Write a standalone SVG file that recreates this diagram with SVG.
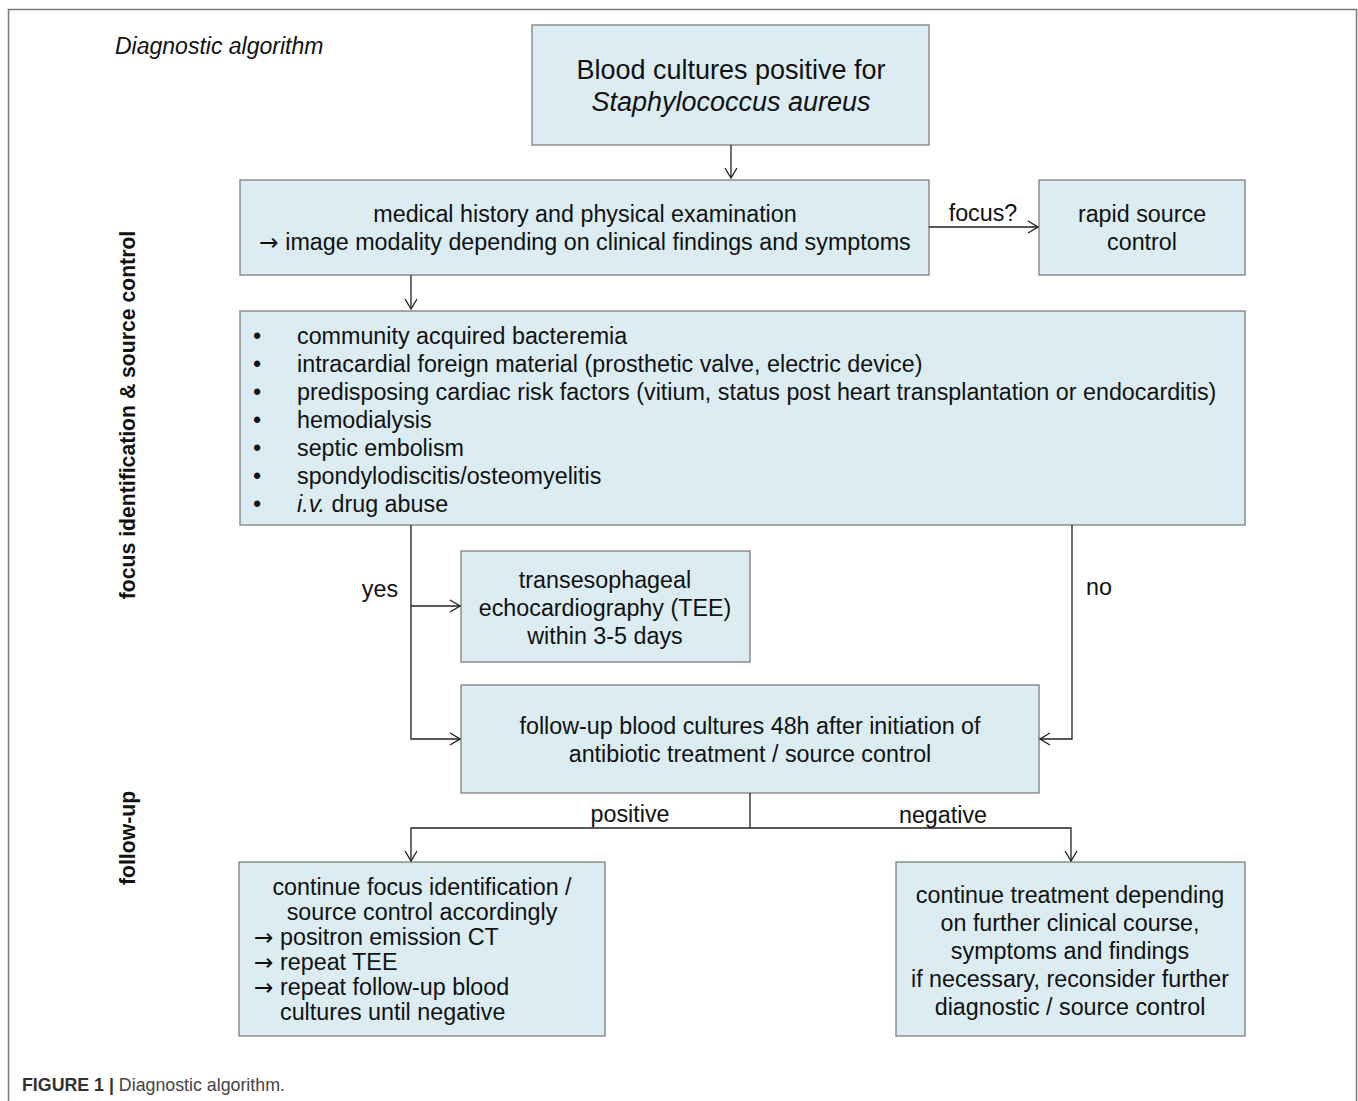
<svg xmlns="http://www.w3.org/2000/svg" width="1358" height="1101" viewBox="0 0 1358 1101">
<style>
text{font-family:"Liberation Sans",Arial,sans-serif;fill:#111}
.box{fill:#dbedf3;stroke:#7f7f7f;stroke-width:1.3}
.t{font-size:23.3px;text-anchor:middle}
.l{font-size:23.3px}
.ar{font-family:"DejaVu Sans",sans-serif}
.c{stroke:#222;stroke-width:1.3;fill:none}
.side{font-size:21.2px;font-weight:bold;text-anchor:middle}
</style>
<defs>
<marker id="ah" markerWidth="12" markerHeight="14" refX="11" refY="7" orient="auto" markerUnits="userSpaceOnUse">
<path d="M1,1 L11,7 L1,13" fill="none" stroke="#222" stroke-width="1.3"/>
</marker>
</defs>
<rect x="0" y="0" width="1358" height="1101" fill="#fff"/>
<path d="M8.5,1101 V9.5 H1356.5 V1101" fill="none" stroke="#7a7a7a" stroke-width="1.5"/>
<text x="115" y="54" font-size="23" font-style="italic">Diagnostic algorithm</text>
<text class="side" transform="translate(135,415) rotate(-90)">focus identification &amp; source control</text>
<text class="side" transform="translate(135,838) rotate(-90)">follow-up</text>

<g id="n1">
<rect class="box" x="532" y="25" width="397" height="120"/>
<text x="731" y="79" font-size="27" text-anchor="middle">Blood cultures positive for</text>
<text x="731" y="111" font-size="27" text-anchor="middle" font-style="italic">Staphylococcus aureus</text>
</g>
<g id="n2">
<rect class="box" x="240" y="180" width="689" height="95"/>
<text class="t" x="585" y="222">medical history and physical examination</text>
<text class="t" x="585" y="250"><tspan class="ar">→</tspan> image modality depending on clinical findings and symptoms</text>
</g>
<g id="n3">
<rect class="box" x="1039" y="180" width="206" height="95"/>
<text class="t" x="1142" y="222">rapid source</text>
<text class="t" x="1142" y="250">control</text>
</g>
<g id="n4">
<rect class="box" x="240" y="311" width="1005" height="214"/>
<g class="l">
<text x="253" y="344">•</text><text x="297" y="344">community acquired bacteremia</text>
<text x="253" y="372">•</text><text x="297" y="372">intracardial foreign material (prosthetic valve, electric device)</text>
<text x="253" y="400">•</text><text x="297" y="400">predisposing cardiac risk factors (vitium, status post heart transplantation or endocarditis)</text>
<text x="253" y="428">•</text><text x="297" y="428">hemodialysis</text>
<text x="253" y="456">•</text><text x="297" y="456">septic embolism</text>
<text x="253" y="484">•</text><text x="297" y="484">spondylodiscitis/osteomyelitis</text>
<text x="253" y="512">•</text><text x="297" y="512"><tspan font-style="italic">i.v.</tspan> drug abuse</text>
</g>
</g>
<g id="n5">
<rect class="box" x="461" y="551" width="289" height="111"/>
<text class="t" x="605" y="588">transesophageal</text>
<text class="t" x="605" y="616">echocardiography (TEE)</text>
<text class="t" x="605" y="644">within 3-5 days</text>
</g>
<g id="n6">
<rect class="box" x="461" y="685" width="578" height="108"/>
<text class="t" x="750" y="734">follow-up blood cultures 48h after initiation of</text>
<text class="t" x="750" y="762">antibiotic treatment / source control</text>
</g>
<g id="n7">
<rect class="box" x="239" y="862" width="366" height="174"/>
<text class="t" x="422" y="895">continue focus identification /</text>
<text class="t" x="422" y="920">source control accordingly</text>
<text class="l" x="254" y="945"><tspan class="ar">→</tspan><tspan x="280">positron emission CT</tspan></text>
<text class="l" x="254" y="970"><tspan class="ar">→</tspan><tspan x="280">repeat TEE</tspan></text>
<text class="l" x="254" y="995"><tspan class="ar">→</tspan><tspan x="280">repeat follow-up blood</tspan></text>
<text class="l" x="280" y="1020">cultures until negative</text>
</g>
<g id="n8">
<rect class="box" x="896" y="862" width="349" height="174"/>
<text class="t" x="1070" y="903">continue treatment depending</text>
<text class="t" x="1070" y="931">on further clinical course,</text>
<text class="t" x="1070" y="959">symptoms and findings</text>
<text class="t" x="1070" y="987">if necessary, reconsider further</text>
<text class="t" x="1070" y="1015">diagnostic / source control</text>
</g>

<g id="connectors">
<path class="c" d="M731,145 V178" marker-end="url(#ah)"/>
<path class="c" d="M929,227 H1038" marker-end="url(#ah)"/>
<path class="c" d="M411,275 V309" marker-end="url(#ah)"/>
<path class="c" d="M411,525 V739 H460" marker-end="url(#ah)"/>
<path class="c" d="M411,606 H460" marker-end="url(#ah)"/>
<path class="c" d="M1072,525 V739 H1040" marker-end="url(#ah)"/>
<path class="c" d="M750,793 V828"/>
<path class="c" d="M750,828 H411 V861" marker-end="url(#ah)"/>
<path class="c" d="M750,828 H1071 V861" marker-end="url(#ah)"/>
<text class="t" x="983" y="221">focus?</text>
<text class="t" x="380" y="597">yes</text>
<text class="t" x="1099" y="595">no</text>
<text class="t" x="630" y="822">positive</text>
<text class="t" x="943" y="823">negative</text>
</g>

<text x="22" y="1091" font-size="17.8" fill="#333"><tspan font-weight="bold" fill="#333">FIGURE 1 |</tspan><tspan fill="#444"> Diagnostic algorithm.</tspan></text>
</svg>
